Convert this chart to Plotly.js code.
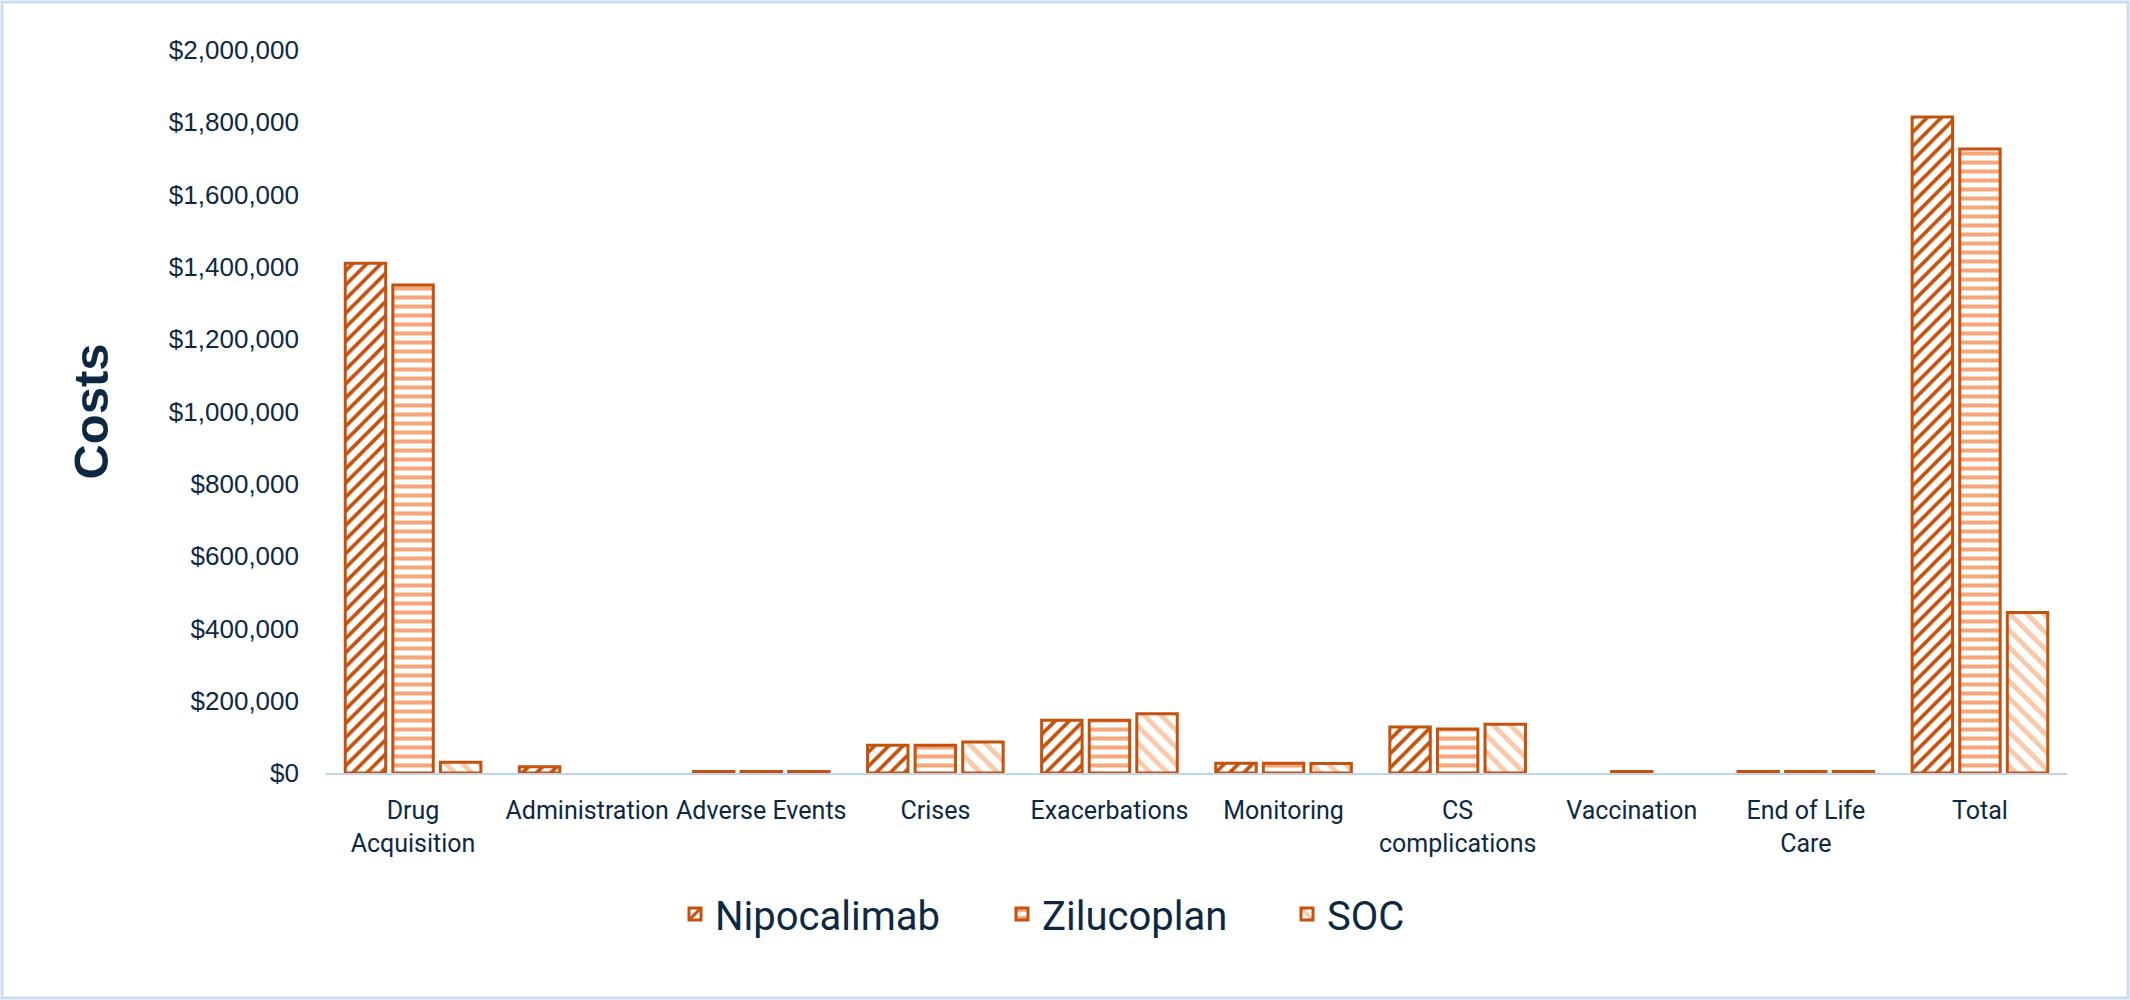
<!DOCTYPE html>
<html>
<head>
<meta charset="utf-8">
<script src="https://cdn.plot.ly/plotly-3.0.1.min.js"></script>
<style>
  body { margin: 0; background: #ffffff; }
  #chart { width: 2130px; height: 1000px; }
</style>
</head>
<body>
<div id="chart"></div>
<script>
  // cost categories and per-arm values
  var categories = ['Drug<br>Acquisition', 'Administration', 'Adverse Events', 'Crises', 'Exacerbations',
                    'Monitoring', 'CS<br>complications', 'Vaccination', 'End of Life<br>Care', 'Total'];
  var nipocalimab = [1410000, 17000, 4000, 77000, 146000, 27000, 127000, 0, 4000, 1815000];
  var zilucoplan  = [1350000, 0, 4000, 77000, 146000, 27000, 122000, 4000, 4000, 1726000];
  var soc         = [30000, 0, 4000, 86000, 164000, 26000, 135000, 0, 4000, 444000];

  var outline = '#c4520f';
  var textColor = '#0e2841';

  function barTrace(name, values, legendId, shape, fg, size, solidity) {
    return {
      type: 'bar',
      name: name,
      legend: legendId,
      x: categories,
      y: values,
      marker: {
        color: fg,
        // zero-cost bars get no outline, as in the original
        line: {color: outline, width: values.map(function (v) { return v > 0 ? 3 : 0; })},
        pattern: {shape: shape, fgcolor: fg, bgcolor: '#ffffff', size: size, solidity: solidity, fillmode: 'replace'}
      },
      hovertemplate: '%{x}: $%{y:,.0f}<extra>' + name + '</extra>'
    };
  }

  var data = [
    barTrace('Nipocalimab', nipocalimab, 'legend', '/', '#c4520f', 10, 0.38),
    barTrace('Zilucoplan', zilucoplan, 'legend2', '-', '#f4a77a', 9, 0.45),
    barTrace('SOC', soc, 'legend3', '\\', '#f8c9aa', 12, 0.4)
  ];

  // plot area in pixels
  var L = 326, R = 63, T = 50, B = 227, W = 2130, H = 1000;
  var pw = W - L - R, ph = H - T - B;
  function px(x) { return (x - L) / pw; }
  function py(y) { return (H - B - y) / ph; }

  function legendAt(symbolX) {
    return {
      orientation: 'h',
      x: px(symbolX - 20), xanchor: 'left',
      y: py(914), yanchor: 'middle',
      bgcolor: 'rgba(0,0,0,0)',
      font: {family: 'Roboto, sans-serif', size: 40, color: textColor}
    };
  }

  var layout = {
    width: W,
    height: H,
    margin: {l: L, r: R, t: T, b: B},
    paper_bgcolor: '#ffffff',
    plot_bgcolor: '#ffffff',
    barmode: 'group',
    bargap: 0.18,
    bargroupgap: 0.15,
    showlegend: true,
    legend: legendAt(695),
    legend2: legendAt(1022),
    legend3: legendAt(1307),
    xaxis: {
      type: 'category',
      showline: true,
      linecolor: '#bcd4ee',
      linewidth: 2,
      ticks: '',
      showgrid: false,
      zeroline: false,
      ticklabelstandoff: 14,
      tickfont: {family: 'Roboto, sans-serif', size: 25, color: textColor}
    },
    yaxis: {
      range: [0, 2000000],
      dtick: 200000,
      tickprefix: '$',
      tickformat: ',.0f',
      showgrid: false,
      zeroline: false,
      showline: false,
      ticks: '',
      ticklabelstandoff: 26,
      tickfont: {family: '"Liberation Sans", Arial, sans-serif', size: 26, color: textColor},
      title: {
        text: '<b>Costs</b>',
        standoff: 44,
        font: {family: '"Liberation Sans", Arial, sans-serif', size: 49, color: textColor}
      }
    },
    shapes: [{
      type: 'rect', xref: 'paper', yref: 'paper',
      x0: px(2), x1: px(W - 2), y0: py(H - 2), y1: py(2),
      line: {color: '#c9dcf1', width: 3},
      fillcolor: 'rgba(0,0,0,0)'
    }]
  };

  Plotly.newPlot('chart', data, layout, {displayModeBar: false});
</script>
</body>
</html>
